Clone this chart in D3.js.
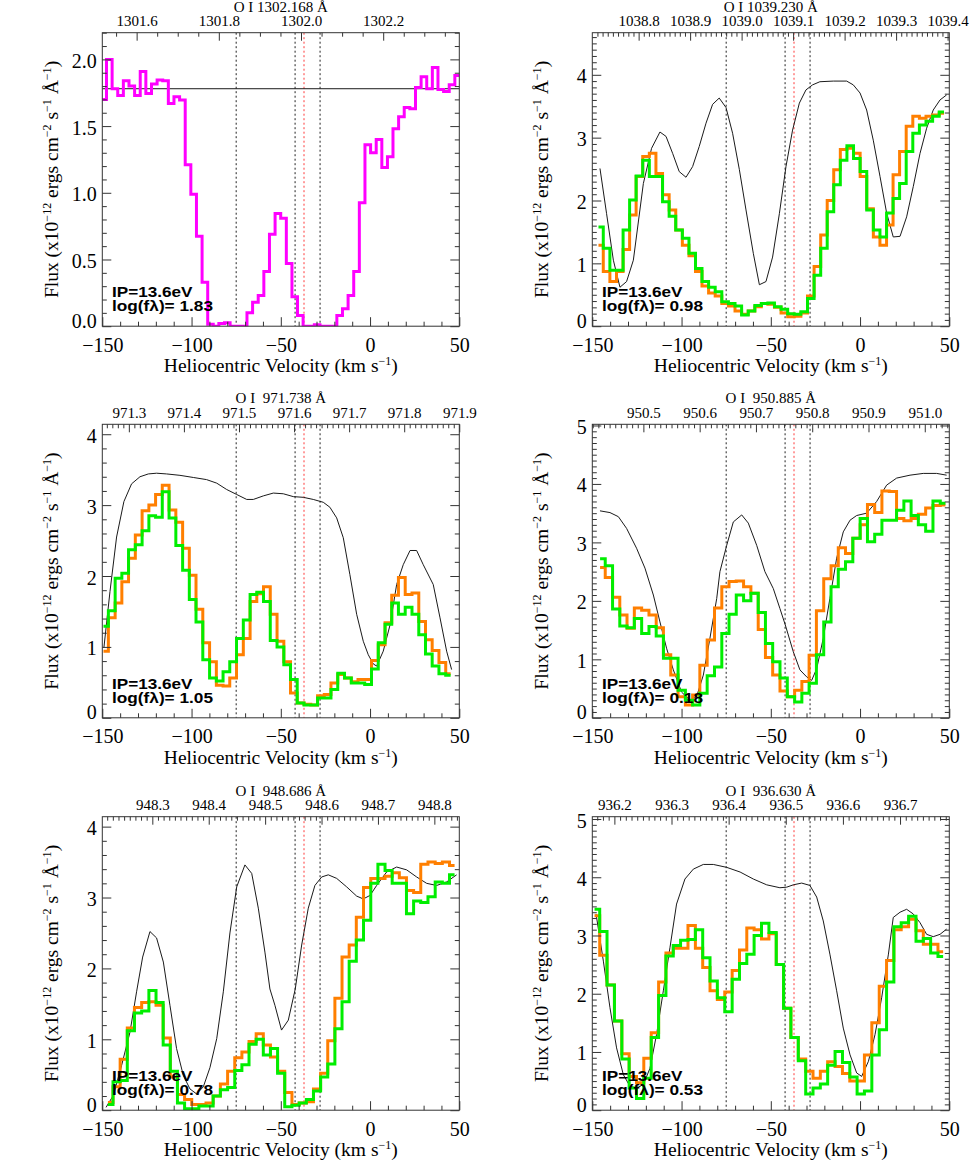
<!DOCTYPE html>
<html><head><meta charset="utf-8">
<script src="https://cdn.jsdelivr.net/npm/d3@7"></script>
<style>body{margin:0;background:#fff}svg{display:block}</style>
</head><body>
<svg id="c" width="980" height="1176"></svg>
<script>
// ---------------- DATA ----------------
const C_KMS = 299792.458;
const restWave = [1302.168, 1039.230, 971.738, 950.885, 948.686, 936.630];
const titles = ["O I 1302.168 Å", "O I 1039.230 Å", "O I  971.738 Å", "O I  950.885 Å", "O I  948.686 Å", "O I  936.630 Å"];
const logFL = ["1.83", "0.98", "1.05", "0.18", "0.78", "0.53"];
const yMax = [2.2, 4.67, 4.14, 5.02, 4.14, 5.04];
const compVel = [-75, -42, -28];
const redVel = [-37];

// Panel 1 (single magenta spectrum + flat continuum)
const vel1 = [-149.2,-146.1,-142.9,-139.8,-136.6,-133.5,-130.3,-127.2,-124.0,-120.9,-117.7,-114.6,-111.4,-108.3,-105.1,-102.0,-98.8,-95.7,-92.5,-89.4,-86.3,-83.1,-80.0,-76.8,-73.7,-70.5,-67.4,-64.2,-61.1,-57.9,-54.8,-51.6,-48.5,-45.3,-42.2,-39.1,-35.9,-32.8,-29.6,-26.5,-23.3,-20.2,-17.0,-13.9,-10.7,-7.6,-4.4,-1.3,1.9,5.0,8.2,11.3,14.4,17.6,20.7,23.9,27.0,30.2,33.3,36.5,39.6,42.8,45.9,49.1];
const flux1 = [1.70,2.00,1.78,1.73,1.84,1.80,1.73,1.91,1.745,1.815,1.845,1.84,1.67,1.72,1.695,1.21,0.99,0.675,0.33,0.015,0.0,0.02,0.025,0.0,0.0,0.0,0.10,0.18,0.23,0.41,0.69,0.845,0.81,0.47,0.22,0.08,0.0,0.0,0.01,0.0,0.0,0.0,0.08,0.13,0.23,0.41,0.925,1.36,1.30,1.40,1.19,1.27,1.48,1.57,1.64,1.63,1.79,1.87,1.78,1.94,1.775,1.76,1.81,1.88];
const modelV1 = [-150, 50];
const modelF1 = [1.78, 1.78];

// Panel 2 (1039.230)
const vel2 = [-145.7,-142.0,-138.3,-134.6,-130.9,-127.3,-123.6,-119.9,-116.2,-112.5,-108.8,-105.1,-101.4,-97.7,-94.0,-90.4,-86.7,-83.0,-79.3,-75.6,-71.9,-68.2,-64.5,-60.8,-57.1,-53.5,-49.8,-46.1,-42.4,-38.7,-35.0,-31.3,-27.6,-23.9,-20.2,-16.6,-12.9,-9.2,-5.5,-1.8,1.9,5.6,9.3,13.0,16.7,20.3,24.0,27.7,31.4,35.1,38.8,42.5,46.2];
const orange2 = [1.29,0.87,0.71,0.87,1.22,1.77,2.38,2.70,2.75,2.43,2.09,1.85,1.53,1.29,1.12,0.87,0.64,0.53,0.48,0.36,0.32,0.24,0.19,0.24,0.31,0.36,0.35,0.30,0.21,0.15,0.16,0.21,0.48,0.95,1.45,2.00,2.49,2.81,2.83,2.75,2.38,1.87,1.42,1.29,1.61,2.41,2.78,3.18,3.34,3.31,3.34,3.36,3.39];
const green2 = [1.58,1.24,0.89,0.89,1.53,2.01,2.39,2.64,2.38,2.38,1.98,1.75,1.53,1.40,1.16,0.92,0.71,0.62,0.55,0.39,0.36,0.32,0.18,0.24,0.33,0.36,0.37,0.31,0.27,0.20,0.19,0.23,0.44,0.81,1.24,1.82,2.25,2.64,2.87,2.67,2.46,1.85,1.53,1.42,1.80,2.03,2.27,2.78,3.07,3.20,3.26,3.34,3.41];
const modelV2 = [-145.7,-142,-138.2,-134.5,-130.8,-127,-121.4,-116.8,-112.1,-108.7,-105,-101.3,-97.5,-93.8,-90.1,-86.3,-82.6,-78.9,-75.1,-71.4,-67.6,-63.9,-59.8,-56.4,-52.7,-49,-45.2,-41.5,-37.8,-34,-30.3,-26.6,-22.5,-15,-7.5,-3.8,0,3.7,7.4,11.2,14.9,18.6,22.4,26.1,29.8,33.6,37.3,41,44.8,48.5];
const modelF2 = [2.51,1.79,1.05,0.62,0.71,1.05,2.27,2.83,3.09,3.02,2.75,2.46,2.37,2.54,2.86,3.23,3.53,3.63,3.48,3.07,2.49,1.85,1.16,0.66,0.71,1.10,1.79,2.54,3.12,3.55,3.76,3.84,3.89,3.90,3.90,3.84,3.71,3.44,2.96,2.38,1.80,1.42,1.43,1.74,2.22,2.75,3.15,3.44,3.60,3.68];

// Panel 3 (971.738)
const vel3 = [-148.5,-144.7,-140.9,-137.2,-133.4,-129.6,-125.8,-122.0,-118.3,-114.5,-110.7,-106.9,-103.1,-99.4,-95.6,-91.8,-88.0,-84.2,-80.5,-76.7,-72.9,-69.1,-65.3,-61.6,-57.8,-54.0,-50.2,-46.4,-42.7,-38.9,-35.1,-31.3,-27.5,-23.8,-20.0,-16.2,-12.4,-8.6,-4.9,-1.1,2.7,6.5,10.3,14.0,17.8,21.6,25.4,29.2,32.9,36.7,40.5,44.3];
const orange3 = [0.94,1.41,1.62,1.92,2.25,2.58,2.92,3.00,3.15,3.28,2.93,2.76,2.39,2.01,1.53,1.06,0.79,0.46,0.45,0.56,0.89,1.12,1.64,1.75,1.85,1.46,1.08,0.79,0.35,0.21,0.19,0.18,0.31,0.33,0.49,0.61,0.56,0.51,0.54,0.54,0.81,1.03,1.34,1.73,1.98,1.74,1.76,1.36,1.10,0.95,0.78,0.62];
const green3 = [1.29,1.51,1.97,2.04,2.37,2.44,2.64,2.85,2.83,3.19,2.82,2.43,2.08,1.67,1.35,0.82,0.56,0.52,0.65,0.79,1.12,1.38,1.74,1.77,1.64,1.09,1.00,0.75,0.54,0.21,0.18,0.18,0.28,0.28,0.40,0.63,0.56,0.49,0.49,0.47,0.69,1.06,1.32,1.62,1.46,1.56,1.46,1.17,0.90,0.73,0.62,0.60];
const modelV3 = [-149.1,-145.7,-142.0,-137.9,-133.6,-128.9,-124.2,-119.6,-114.0,-106.5,-99.0,-91.6,-85.9,-80.3,-74.7,-69.1,-65.4,-59.8,-54.2,-48.6,-43.0,-37.4,-31.8,-26.2,-22.5,-18.7,-15.0,-11.3,-7.5,-3.8,-1.0,1.8,3.7,7.4,11.2,14.9,18.6,22.4,26.1,29.8,35.4,39.2,42.9,45.7];
const modelF3 = [0.99,1.78,2.55,3.05,3.30,3.40,3.44,3.45,3.44,3.42,3.39,3.36,3.31,3.22,3.15,3.08,3.08,3.13,3.17,3.16,3.12,3.11,3.08,3.04,2.97,2.82,2.54,2.02,1.46,1.08,0.89,0.76,0.73,0.94,1.31,1.88,2.16,2.36,2.36,2.16,1.88,1.41,0.94,0.68];

// Panel 4 (950.885)
const vel4 = [-144.8,-140.7,-136.6,-132.6,-128.5,-124.4,-120.3,-116.2,-112.2,-108.1,-104.0,-99.9,-95.8,-91.8,-87.7,-83.6,-79.5,-75.4,-71.4,-67.3,-63.2,-59.1,-55.0,-51.0,-46.9,-42.8,-38.7,-34.6,-30.6,-26.5,-22.4,-18.3,-14.2,-10.2,-6.1,-2.0,2.1,6.2,10.2,14.3,18.4,22.5,26.6,30.6,34.7,38.8,42.9,47.0];
const orange4 = [2.57,2.40,2.06,1.76,1.53,1.88,1.84,1.76,1.54,1.08,0.73,0.36,0.22,0.39,0.90,1.33,1.88,2.24,2.33,2.34,2.24,2.13,1.51,1.03,0.73,0.46,0.36,0.47,0.62,1.07,1.83,2.38,2.60,2.91,2.81,3.07,3.30,3.65,3.51,3.88,3.87,3.41,3.37,3.41,3.48,3.59,3.63,3.64];
const green4 = [2.72,2.60,1.86,1.57,1.54,1.70,1.44,1.56,1.40,1.02,1.02,0.47,0.30,0.22,0.42,0.72,0.87,1.44,1.77,2.10,2.00,2.13,1.80,1.27,0.96,0.68,0.36,0.27,0.42,0.59,1.08,1.64,2.24,2.54,2.67,3.07,3.41,3.01,3.14,3.38,3.38,3.55,3.71,3.46,3.30,3.19,3.71,3.67];
const modelV4 = [-145.7,-140.1,-135.4,-130.8,-125.2,-120.5,-115.8,-112.1,-108.4,-104.6,-100.0,-95.3,-91.6,-87.8,-84.1,-80.3,-78.5,-74.7,-71.0,-66.3,-62.6,-57.9,-53.3,-48.6,-44.9,-41.9,-37.4,-33.7,-29.9,-27.1,-24.3,-20.6,-16.9,-13.1,-9.4,-5.6,-1.9,3.7,9.3,14.9,20.5,28.0,35.4,42.9,48.5];
const modelF4 = [3.54,3.51,3.44,3.24,2.90,2.56,2.10,1.64,1.19,0.82,0.44,0.30,0.36,0.73,1.36,2.04,2.50,2.95,3.35,3.47,3.33,2.95,2.50,2.21,1.87,1.59,1.13,0.82,0.70,0.64,0.84,1.36,2.04,2.73,3.18,3.38,3.46,3.50,3.70,3.98,4.10,4.15,4.18,4.18,4.15];

// Panel 5 (948.686)
const vel5 = [-146.0,-142.0,-138.0,-134.0,-130.0,-125.9,-121.9,-117.9,-113.9,-109.9,-105.9,-101.9,-97.9,-93.9,-89.9,-85.9,-81.8,-77.8,-73.8,-69.8,-65.8,-61.8,-57.8,-53.8,-49.8,-45.8,-41.7,-37.7,-33.7,-29.7,-25.7,-21.7,-17.7,-13.7,-9.7,-5.7,-1.6,2.4,6.4,10.4,14.4,18.4,22.4,26.4,30.4,34.5,38.5,42.5,46.5];
const orange5 = [0.11,0.33,0.72,1.16,1.45,1.52,1.53,1.48,1.02,0.47,0.22,0.15,0.08,0.08,0.10,0.20,0.37,0.55,0.74,0.82,0.97,1.08,0.92,0.75,0.55,0.25,0.08,0.10,0.12,0.30,0.52,0.98,1.58,2.16,2.33,2.72,3.14,3.27,3.27,3.30,3.35,3.28,3.10,3.07,3.47,3.50,3.48,3.50,3.45];
const green5 = [0.08,0.40,0.42,1.12,1.37,1.40,1.69,1.52,0.92,0.55,0.10,0.02,0.02,0.06,0.06,0.20,0.29,0.32,0.56,0.64,0.93,1.00,0.78,0.87,0.52,0.05,0.07,0.10,0.15,0.27,0.47,0.65,1.15,1.53,2.10,2.40,2.68,3.20,3.47,3.38,3.20,3.20,2.77,2.95,2.93,3.01,3.22,3.20,3.32];
const modelV5 = [-147.9,-143.8,-139.2,-134.5,-130.8,-127.4,-123.3,-119.6,-115.8,-112.1,-108.4,-104.6,-100.9,-97.2,-93.4,-89.7,-85.9,-82.2,-78.5,-74.7,-70.1,-66.3,-62.6,-58.9,-56.1,-53.3,-49.6,-45.8,-41.9,-38.3,-34.6,-30.9,-27.1,-23.4,-18.7,-13.1,-7.5,-3.8,0.0,3.7,9.3,14.9,20.5,26.1,31.7,37.3,42.9,48.5];
const modelF5 = [0.04,0.21,0.63,1.10,1.67,2.16,2.52,2.43,2.09,1.48,0.87,0.49,0.30,0.23,0.33,0.60,1.01,1.67,2.50,3.15,3.46,3.34,2.85,2.23,1.71,1.48,1.13,1.27,1.71,2.33,2.85,3.17,3.29,3.32,3.27,3.15,3.02,2.98,3.03,3.17,3.36,3.43,3.39,3.29,3.20,3.17,3.22,3.32];

// Panel 6 (936.630)
const vel6 = [-147.9,-143.8,-139.7,-135.5,-131.4,-127.3,-123.2,-119.1,-114.9,-110.8,-106.7,-102.6,-98.5,-94.3,-90.2,-86.1,-82.0,-77.9,-73.7,-69.6,-65.5,-61.4,-57.3,-53.1,-49.0,-44.9,-40.8,-36.7,-32.5,-28.4,-24.3,-20.2,-16.1,-11.9,-7.8,-3.7,0.4,4.5,8.7,12.8,16.9,21.0,25.1,29.3,33.4,37.5,41.6,45.7];
const orange6 = [3.34,2.66,2.15,1.53,0.97,0.58,0.47,0.89,1.33,2.20,2.70,2.78,2.78,3.17,2.78,2.45,2.05,1.90,2.03,2.40,2.75,3.13,3.10,2.94,3.03,2.50,1.75,1.25,0.88,0.67,0.55,0.67,0.83,0.75,0.63,0.50,0.50,0.95,1.50,2.13,2.57,3.10,3.15,3.28,3.08,2.85,2.85,2.72];
const green6 = [3.45,3.07,2.15,1.53,0.88,0.38,0.20,0.55,1.25,1.97,2.65,2.83,2.92,2.93,3.10,2.62,2.22,1.93,1.69,2.25,2.52,2.68,3.00,3.21,3.05,2.50,1.75,1.25,0.85,0.28,0.38,0.45,0.77,1.01,0.82,0.57,0.28,0.33,0.95,1.38,2.20,3.15,3.22,3.33,2.90,2.95,2.70,2.64];
const modelV6 = [-147.9,-143.8,-140.1,-136.4,-132.6,-128.9,-125.2,-121.4,-117.7,-114.0,-110.2,-106.5,-102.8,-98.1,-93.4,-87.8,-82.2,-74.7,-67.2,-59.8,-52.3,-44.9,-41.1,-37.4,-32.7,-28.1,-24.3,-20.6,-16.9,-13.1,-9.4,-5.6,-1.9,0.9,4.7,8.4,12.1,15.9,18.6,22.4,26.1,29.8,33.6,37.3,41.0,44.8,48.5];
const modelF6 = [3.37,2.56,1.76,1.07,0.61,0.41,0.38,0.44,0.72,1.30,2.05,2.79,3.54,3.97,4.14,4.22,4.22,4.17,4.09,3.97,3.87,3.82,3.83,3.87,3.90,3.86,3.66,3.25,2.68,2.05,1.41,0.95,0.64,0.58,0.84,1.30,1.93,2.68,3.31,3.40,3.45,3.37,3.22,3.02,2.98,3.02,3.11];

const velTicksMajor = [-150, -100, -50, 0, 50];
const velTicksMinor = [-140,-130,-120,-110,-90,-80,-70,-60,-40,-30,-20,-10,10,20,30,40];

// ---------------- CONFIG ----------------
const panels = [
  {series: [{v: vel1, f: flux1, color: "#ff00ff"}], model: [modelV1, modelF1], yMajor: 0.5, yMinor: 0.1, yFmt: ".1f", wMajor: 0.2, wMinor: 0.05},
  {series: [{v: vel2, f: orange2, color: "#ff7f00"}, {v: vel2, f: green2, color: "#00ee00"}], model: [modelV2, modelF2], yMajor: 1, yMinor: 0.1, yFmt: "d", wMajor: 0.1, wMinor: 0.01},
  {series: [{v: vel3, f: orange3, color: "#ff7f00"}, {v: vel3, f: green3, color: "#00ee00"}], model: [modelV3, modelF3], yMajor: 1, yMinor: 0.2, yFmt: "d", wMajor: 0.1, wMinor: 0.01},
  {series: [{v: vel4, f: orange4, color: "#ff7f00"}, {v: vel4, f: green4, color: "#00ee00"}], model: [modelV4, modelF4], yMajor: 1, yMinor: 0.1, yFmt: "d", wMajor: 0.1, wMinor: 0.01},
  {series: [{v: vel5, f: orange5, color: "#ff7f00"}, {v: vel5, f: green5, color: "#00ee00"}], model: [modelV5, modelF5], yMajor: 1, yMinor: 0.2, yFmt: "d", wMajor: 0.1, wMinor: 0.01},
  {series: [{v: vel6, f: orange6, color: "#ff7f00"}, {v: vel6, f: green6, color: "#00ee00"}], model: [modelV6, modelF6], yMajor: 1, yMinor: 0.1, yFmt: "d", wMajor: 0.1, wMinor: 0.01}
];

// ---------------- LAYOUT ----------------
const colX = [102.3, 592.3];
const rowY = [32.7, 424.3, 816.7];
const PW = 357, PH = 293.5;
const SERIF = "'Liberation Serif','Times New Roman',Times,serif";
const SANS = "'Liberation Sans',Arial,Helvetica,sans-serif";
const svg = d3.select("#c");
svg.append("rect").attr("width", 980).attr("height", 1176).attr("fill", "#fff");
const defs = svg.append("defs");

function stepRange(lo, hi, step) {
  const out = [];
  const k0 = Math.ceil(lo / step - 1e-9), k1 = Math.floor(hi / step + 1e-9);
  for (let k = k0; k <= k1; k++) out.push(+(k * step).toFixed(4));
  return out;
}

function styleAxis(sel, fontSize) {
  sel.attr("font-family", null).attr("font-size", null);
  sel.select(".domain").remove();
  sel.selectAll(".tick line").attr("stroke", "#333").attr("stroke-width", 1);
  sel.selectAll(".tick text").attr("fill", "#000").style("font-family", SERIF).style("font-size", fontSize + "px");
}

function supText(textSel, parts, base, sup, raise) {
  let prevSup = false;
  parts.forEach(([t, isSup]) => {
    const ts = textSel.append("tspan").text(t);
    if (isSup) ts.style("font-size", sup).attr("dy", -raise);
    else {
      ts.style("font-size", base);
      if (prevSup) ts.attr("dy", raise);
    }
    prevSup = !!isSup;
  });
}

panels.forEach((p, k) => {
  const col = k % 2, row = Math.floor(k / 2);
  const x0 = colX[col], y0 = rowY[row];
  const lam0 = restWave[k];
  const x = d3.scaleLinear().domain([-150, 50]).range([x0, x0 + PW]);
  const y = d3.scaleLinear().domain([0, yMax[k]]).range([y0 + PH, y0]);
  const wl = d3.scaleLinear().domain([lam0 * (1 - 150 / C_KMS), lam0 * (1 + 50 / C_KMS)]).range([x0, x0 + PW]);

  const cid = "clip" + k;
  defs.append("clipPath").attr("id", cid).append("rect")
    .attr("x", x0).attr("y", y0).attr("width", PW).attr("height", PH);

  const g = svg.append("g");
  const pg = g.append("g").attr("clip-path", `url(#${cid})`);

  // component velocity markers
  compVel.forEach(v => pg.append("line").attr("x1", x(v)).attr("x2", x(v)).attr("y1", y0).attr("y2", y0 + PH)
    .attr("stroke", "#222").attr("stroke-width", 1).attr("stroke-dasharray", "2,2.5"));
  redVel.forEach(v => pg.append("line").attr("x1", x(v)).attr("x2", x(v)).attr("y1", y0).attr("y2", y0 + PH)
    .attr("stroke", "#ff3b3b").attr("stroke-width", 1).attr("stroke-dasharray", "2,2.5"));

  // model
  const mline = d3.line().x(d => x(d[0])).y(d => y(d[1]));
  const mdata = p.model[0].map((v, i) => [v, p.model[1][i]]);
  pg.append("path").attr("d", mline(mdata)).attr("fill", "none").attr("stroke", "#1a1a1a").attr("stroke-width", 1);

  // histograms
  const hline = d3.line().x(d => x(d[0])).y(d => y(d[1])).curve(d3.curveStep);
  p.series.forEach(s => {
    const data = s.v.map((v, i) => [v, s.f[i]]);
    pg.append("path").attr("d", hline(data)).attr("fill", "none").attr("stroke", s.color)
      .attr("stroke-width", 3).attr("stroke-linejoin", "miter").attr("stroke-linecap", "square");
  });

  // frame
  g.append("rect").attr("x", x0).attr("y", y0).attr("width", PW).attr("height", PH)
    .attr("fill", "none").attr("stroke", "#333").attr("stroke-width", 1);

  // bottom axis
  const bMaj = g.append("g").attr("transform", `translate(0,${y0 + PH})`)
    .call(d3.axisBottom(x).tickValues(velTicksMajor).tickSize(-9).tickPadding(0).tickFormat(d3.format("d")));
  styleAxis(bMaj, 20);
  bMaj.selectAll(".tick text").attr("y", 25.7).attr("dy", null);
  const bMin = g.append("g").attr("transform", `translate(0,${y0 + PH})`)
    .call(d3.axisBottom(x).tickValues(velTicksMinor).tickSize(-4.5).tickFormat(""));
  styleAxis(bMin, 20);

  // left axis
  const yMajT = stepRange(0, yMax[k], p.yMajor);
  const yMinT = stepRange(0, yMax[k], p.yMinor).filter(t => !yMajT.some(m => Math.abs(m - t) < 1e-6));
  const lMaj = g.append("g").attr("transform", `translate(${x0},0)`)
    .call(d3.axisLeft(y).tickValues(yMajT).tickSize(-9).tickPadding(5.6).tickFormat(d3.format(p.yFmt)));
  styleAxis(lMaj, 20);
  lMaj.selectAll(".tick text").attr("dy", d => d === 0 ? "0.05em" : "0.4em");
  const lMin = g.append("g").attr("transform", `translate(${x0},0)`)
    .call(d3.axisLeft(y).tickValues(yMinT).tickSize(-4.5).tickFormat(""));
  styleAxis(lMin, 20);
  // right axis (mirrored)
  const rMaj = g.append("g").attr("transform", `translate(${x0 + PW},0)`)
    .call(d3.axisRight(y).tickValues(yMajT).tickSize(-9).tickFormat(""));
  styleAxis(rMaj, 20);
  const rMin = g.append("g").attr("transform", `translate(${x0 + PW},0)`)
    .call(d3.axisRight(y).tickValues(yMinT).tickSize(-4.5).tickFormat(""));
  styleAxis(rMin, 20);

  // top wavelength axis
  const [wlo, whi] = wl.domain();
  const wMajT = stepRange(wlo, whi, p.wMajor);
  const wMinT = stepRange(wlo, whi, p.wMinor).filter(t => !wMajT.some(m => Math.abs(m - t) < 1e-6));
  const tMaj = g.append("g").attr("transform", `translate(0,${y0})`)
    .call(d3.axisTop(wl).tickValues(wMajT).tickSize(-8).tickPadding(6.7).tickFormat(d3.format(".1f")));
  styleAxis(tMaj, 15);
  const tMin = g.append("g").attr("transform", `translate(0,${y0})`)
    .call(d3.axisTop(wl).tickValues(wMinT).tickSize(-4).tickFormat(""));
  styleAxis(tMin, 15);

  // title (line identification)
  g.append("text").attr("x", x0 + PW / 2).attr("y", y0 - 21).attr("text-anchor", "middle")
    .style("font-family", SERIF).style("font-size", "15px").style("white-space", "pre")
    .attr("xml:space", "preserve").text(titles[k]);

  // x title
  const xt = g.append("text").attr("x", x0 + PW / 2).attr("y", y0 + PH + 45.7).attr("text-anchor", "middle")
    .style("font-family", SERIF);
  supText(xt, [["Heliocentric Velocity (km s", 0], ["−1", 1], [")", 0]], "19.5px", "12px", 7);

  // y title
  const yt = g.append("text").attr("transform", `translate(${x0 - 44.3},${y0 + PH / 2}) rotate(-90)`)
    .attr("text-anchor", "middle").style("font-family", SERIF);
  supText(yt, [["Flux (x10", 0], ["−12", 1], [" ergs cm", 0], ["−2", 1], [" s", 0], ["−1", 1], [" Å", 0], ["−1", 1], [")", 0]], "19.5px", "12px", 7);

  // annotation
  g.append("text").attr("x", x0 + 9.7).attr("y", y0 + PH - 29.3)
    .style("font-family", SANS).style("font-weight", "bold").style("font-size", "14.5px")
    .attr("textLength", 80.5).attr("lengthAdjust", "spacingAndGlyphs").text("IP=13.6eV");
  g.append("text").attr("x", x0 + 9.7).attr("y", y0 + PH - 15.3)
    .style("font-family", SANS).style("font-weight", "bold").style("font-size", "14.5px")
    .attr("textLength", 101).attr("lengthAdjust", "spacingAndGlyphs").text("log(fλ)= " + logFL[k]);
});
</script>
</body></html>
